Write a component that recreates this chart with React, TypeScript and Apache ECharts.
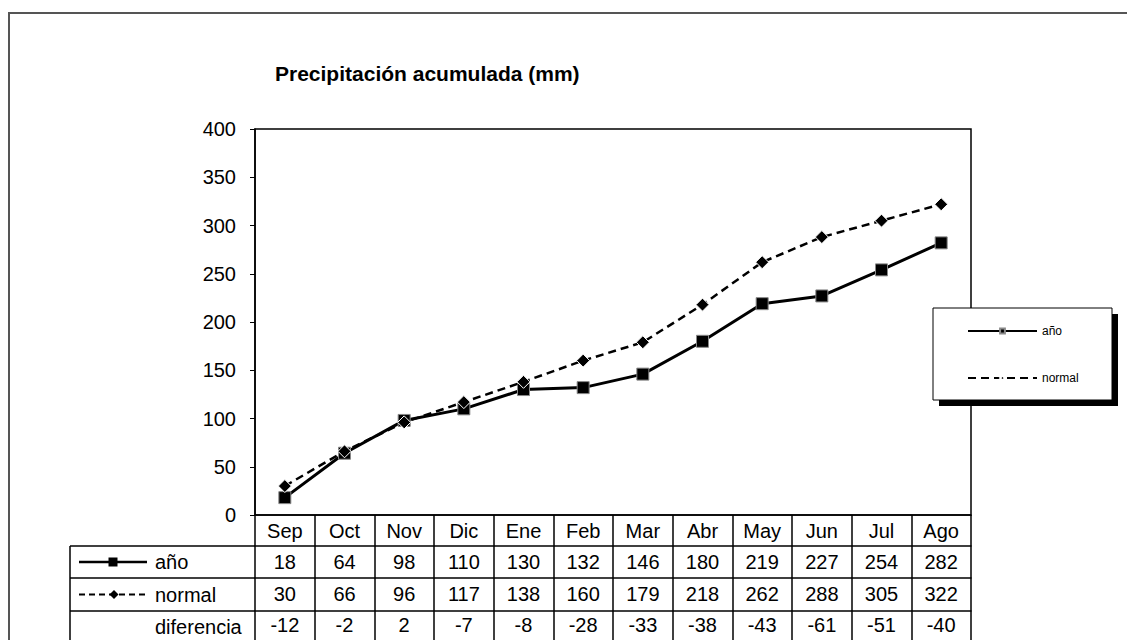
import React, { useEffect, useRef } from "react";
import * as echarts from "echarts";

const months = ["Sep", "Oct", "Nov", "Dic", "Ene", "Feb", "Mar", "Abr", "May", "Jun", "Jul", "Ago"];
const anio = [18, 64, 98, 110, 130, 132, 146, 180, 219, 227, 254, 282];
const normal = [30, 66, 96, 117, 138, 160, 179, 218, 262, 288, 305, 322];
const diferencia = [-12, -2, 2, -7, -8, -28, -33, -38, -43, -61, -51, -40];
const rowLabels = ["año", "normal", "diferencia"];
const titleText = "Precipitación acumulada (mm)";

const FONT = "'Liberation Sans', Arial, sans-serif";

export default function App() {
  const ref = useRef<HTMLDivElement>(null);
  useEffect(() => {
    const chart = echarts.init(ref.current!, null, { renderer: "svg" });
    const gl = 255, gt = 129, gw = 716, gh = 386;
    const rowCenters = [562, 594.5, 627];
    const rowAxis = (data: (string | number)[], offset: number, len: number, margin: number) => ({
      type: "category",
      position: "bottom",
      offset,
      data: data.map(String),
      boundaryGap: true,
      axisLine: { show: true, lineStyle: { color: "#000", width: 1.5 } },
      axisTick: { show: true, interval: 0, alignWithLabel: false, inside: false, length: len, lineStyle: { color: "#000", width: 1.5 } },
      axisLabel: { interval: 0, margin, fontSize: 20, color: "#000", fontFamily: FONT },
      splitLine: { show: false },
    });
    const lineSolid = { stroke: "#000", lineWidth: 2.5 };
    const graphics: any[] = [
      { type: "rect", shape: { x: 9, y: 13, width: 1200, height: 700 }, style: { fill: "none", stroke: "#555", lineWidth: 2 }, z: 0, silent: true },
      // left part of table
      { type: "line", shape: { x1: 70, y1: 546, x2: 255, y2: 546 }, style: { stroke: "#000", lineWidth: 1.5 }, z: 5 },
      { type: "line", shape: { x1: 70, y1: 578, x2: 255, y2: 578 }, style: { stroke: "#000", lineWidth: 1.5 }, z: 5 },
      { type: "line", shape: { x1: 70, y1: 611, x2: 255, y2: 611 }, style: { stroke: "#000", lineWidth: 1.5 }, z: 5 },
      { type: "line", shape: { x1: 70, y1: 546, x2: 70, y2: 650 }, style: { stroke: "#000", lineWidth: 1.5 }, z: 5 },
      // año key
      { type: "line", shape: { x1: 79, y1: 562, x2: 147, y2: 562 }, style: lineSolid, z: 5 },
      { type: "rect", shape: { x: 108.5, y: 557.5, width: 9, height: 9 }, style: { fill: "#000" }, z: 6 },
      // normal key
      { type: "line", shape: { x1: 79, y1: 594.5, x2: 147, y2: 594.5 }, style: { stroke: "#000", lineWidth: 2, lineDash: [6, 4] }, z: 5 },
      { type: "polygon", shape: { points: [[114, 590], [118.5, 594.5], [114, 599], [109.5, 594.5]] }, style: { fill: "#000" }, z: 6 },
      // legend box with shadow
      { type: "rect", shape: { x: 939, y: 314, width: 179, height: 92 }, style: { fill: "#000" }, z: 15 },
      { type: "rect", shape: { x: 933, y: 308, width: 179, height: 92 }, style: { fill: "#fff", stroke: "#000", lineWidth: 1 }, z: 16 },
    ];
    rowLabels.forEach((t, i) => {
      graphics.push({
        type: "text",
        x: 155,
        y: rowCenters[i],
        style: { text: t, fontSize: 20, fontFamily: FONT, fill: "#000", textVerticalAlign: "middle", textAlign: "left" },
        z: 6,
      });
    });
    const option: any = {
      animation: false,
      backgroundColor: "#fff",
      title: {
        text: titleText,
        left: 275,
        top: 63,
        textStyle: { fontSize: 21, fontWeight: "bold", fontFamily: FONT, color: "#000" },
        padding: 0,
      },
      grid: { left: gl, top: gt, width: gw, height: gh, show: true, borderColor: "#000", borderWidth: 1.5, backgroundColor: "transparent" },
      legend: {
        orient: "vertical",
        left: 967,
        top: 325,
        padding: 0,
        itemWidth: 69,
        itemHeight: 6,
        itemGap: 35,
        z: 30,
        textStyle: { fontSize: 12, fontFamily: FONT, color: "#000" },
        data: ["año", "normal"],
      },
      xAxis: [
        rowAxis(months, 0, 31, 6),
        rowAxis(anio, 31, 32, 6),
        rowAxis(normal, 63, 33, 6),
        rowAxis(diferencia, 96, 40, 4),
      ],
      yAxis: {
        type: "value",
        min: 0,
        max: 400,
        interval: 50,
        axisLine: { show: true, lineStyle: { color: "#000", width: 1.5 } },
        axisTick: { show: true, inside: false, length: 5, lineStyle: { color: "#000" } },
        axisLabel: { margin: 19, fontSize: 20, color: "#000", fontFamily: FONT },
        splitLine: { show: false },
      },
      graphic: graphics,
      series: [
        {
          name: "año",
          type: "line",
          xAxisIndex: 0,
          data: anio,
          symbol: "rect",
          symbolSize: 12,
          lineStyle: { color: "#000", width: 3, type: "solid" },
          itemStyle: { color: "#000", borderColor: "#888", borderWidth: 1 },
          z: 3,
        },
        {
          name: "normal",
          type: "line",
          xAxisIndex: 0,
          data: normal,
          symbol: "diamond",
          symbolSize: 13,
          lineStyle: { color: "#000", width: 2.5, type: [8, 5] },
          itemStyle: { color: "#000", borderColor: "#fff", borderWidth: 1 },
          z: 4,
        },
      ],
    };
    chart.setOption(option);
    return () => chart.dispose();
  }, []);
  return <div ref={ref} style={{ position: "fixed", left: 0, top: 0, width: 1127, height: 640, background: "#fff" }} />;
}
